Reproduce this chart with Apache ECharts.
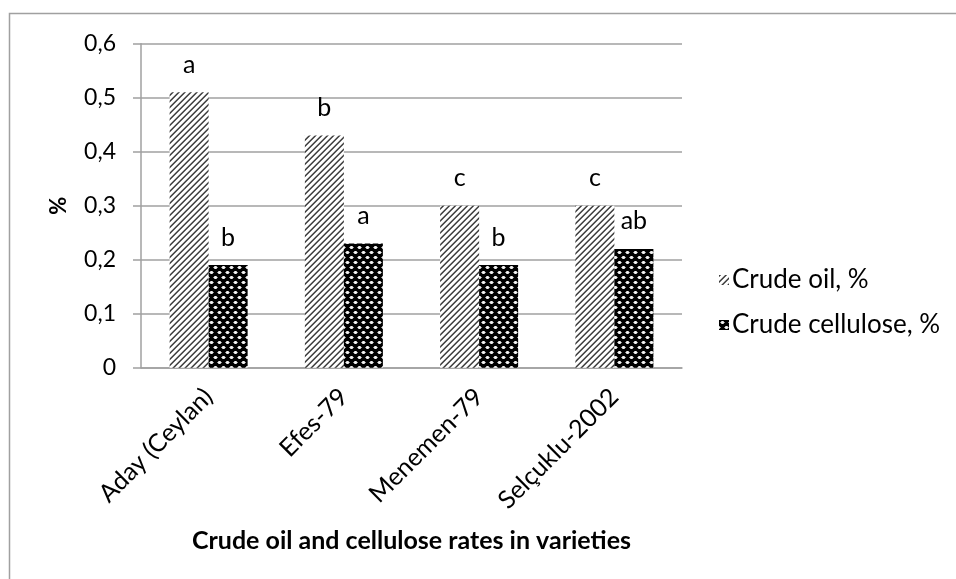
<!DOCTYPE html>
<html>
<head>
<meta charset="utf-8">
<script src="https://cdn.jsdelivr.net/npm/echarts@6/dist/echarts.min.js"></script>
<style>
html,body{margin:0;padding:0;background:#fff;}
#chart{width:956px;height:579px;}
</style>
</head>
<body>
<div id="chart"></div>
<script>
var categories = ['Aday (Ceylan)', 'Efes-79', 'Menemen-79', 'Selçuklu-2002'];
var seriesNames = ['Crude oil, %', 'Crude cellulose, %'];
var crudeOil = [0.51, 0.43, 0.30, 0.30];
var crudeCellulose = [0.19, 0.23, 0.19, 0.22];
var oilLetters = ['a', 'b', 'c', 'c'];
var celluloseLetters = ['b', 'a', 'b', 'ab'];
var yTicks = ['0', '0,1', '0,2', '0,3', '0,4', '0,5', '0,6'];

function makeHatch() {
  var c = document.createElement('canvas');
  c.width = 6; c.height = 6;
  var ctx = c.getContext('2d');
  ctx.fillStyle = '#ffffff';
  ctx.fillRect(0, 0, 6, 6);
  for (var x = 0; x < 6; x++) {
    for (var y = 0; y < 6; y++) {
      var k = (x + y) % 6;
      var col = null;
      if (k === 0) col = '#3a3a3a';
      else if (k === 1) col = '#7a7a7a';
      else if (k === 5) col = '#b4b4b4';
      if (col) { ctx.fillStyle = col; ctx.fillRect(x, y, 1, 1); }
    }
  }
  return c;
}
function makeDots() {
  var c = document.createElement('canvas');
  c.width = 8; c.height = 10;
  var ctx = c.getContext('2d');
  ctx.fillStyle = '#000000';
  ctx.fillRect(0, 0, 8, 10);
  function dash(x, y) {
    ctx.fillStyle = '#f0f0f0';
    ctx.fillRect(x + 1, y, 3, 3);
    ctx.fillStyle = '#909090';
    ctx.fillRect(x, y + 1, 1, 1);
    ctx.fillRect(x + 4, y + 1, 1, 1);
    ctx.fillStyle = '#b0b0b0';
    ctx.fillRect(x + 1, y, 1, 1);
    ctx.fillRect(x + 3, y, 1, 1);
    ctx.fillRect(x + 1, y + 2, 1, 1);
    ctx.fillRect(x + 3, y + 2, 1, 1);
  }
  dash(1, 1);
  dash(5, 6);
  dash(-3, 6);
  return c;
}
var hatch = makeHatch();
var dots = makeDots();

var FONT = 'Lato';
var chart = echarts.init(document.getElementById('chart'), null, {renderer: 'canvas'});
chart.setOption({
  animation: false,
  backgroundColor: '#ffffff',
  textStyle: {fontFamily: FONT},
  grid: {left: 141, right: 274, top: 43.7, bottom: 211.3, containLabel: false},
  legend: {
    orient: 'vertical',
    left: 714,
    top: 261,
    itemWidth: 10,
    itemHeight: 10,
    itemGap: 17,
    icon: 'rect',
    textStyle: {fontFamily: FONT, fontSize: 26, color: '#000', lineHeight: 28, padding: [0, 0, 0, -2]},
    data: seriesNames
  },
  xAxis: {
    type: 'category',
    data: categories,
    name: 'Crude oil and cellulose rates in varieties',
    nameLocation: 'middle',
    nameGap: 161,
    nameTextStyle: {fontFamily: FONT, fontSize: 25, fontWeight: 'bold', color: '#000'},
    axisLine: {lineStyle: {color: '#a0a0a0', width: 1.5}},
    axisTick: {show: false},
    axisLabel: {rotate: 45, margin: 25, fontSize: 25, color: '#000', fontFamily: FONT}
  },
  yAxis: {
    type: 'value',
    min: 0,
    max: 0.6,
    interval: 0.1,
    name: '%',
    nameLocation: 'middle',
    nameGap: 71,
    nameRotate: 90,
    nameTextStyle: {fontFamily: FONT, fontSize: 22, fontWeight: 'bold', color: '#000'},
    axisLine: {show: true, lineStyle: {color: '#a0a0a0', width: 1.5}},
    axisTick: {show: true, length: 8, lineStyle: {color: '#a0a0a0', width: 1.5}},
    splitLine: {lineStyle: {color: '#a0a0a0', width: 1.5}},
    axisLabel: {
      margin: 25, fontSize: 23, color: '#000', fontFamily: FONT,
      formatter: function (v) { return yTicks[Math.round(v * 10)]; }
    }
  },
  series: [
    {
      name: seriesNames[0],
      type: 'bar',
      data: crudeOil,
      barWidth: 39,
      barGap: '0%',
      itemStyle: {color: {image: hatch, repeat: 'repeat'}},
      label: {
        show: true, position: 'top', distance: 15, fontSize: 25, color: '#000', fontFamily: FONT,
        formatter: function (p) { return oilLetters[p.dataIndex]; }
      }
    },
    {
      name: seriesNames[1],
      type: 'bar',
      data: crudeCellulose,
      barWidth: 39,
      barGap: '0%',
      itemStyle: {color: {image: dots, repeat: 'repeat'}},
      label: {
        show: true, position: 'top', distance: 15, fontSize: 25, color: '#000', fontFamily: FONT,
        formatter: function (p) { return celluloseLetters[p.dataIndex]; }
      }
    }
  ],
  graphic: [{
    type: 'rect',
    shape: {x: 9.5, y: 13.5, width: 1200, height: 1200},
    style: {fill: 'none', stroke: '#a0a0a0', lineWidth: 1.5},
    silent: true,
    z: -1
  }]
});
</script>
</body>
</html>
